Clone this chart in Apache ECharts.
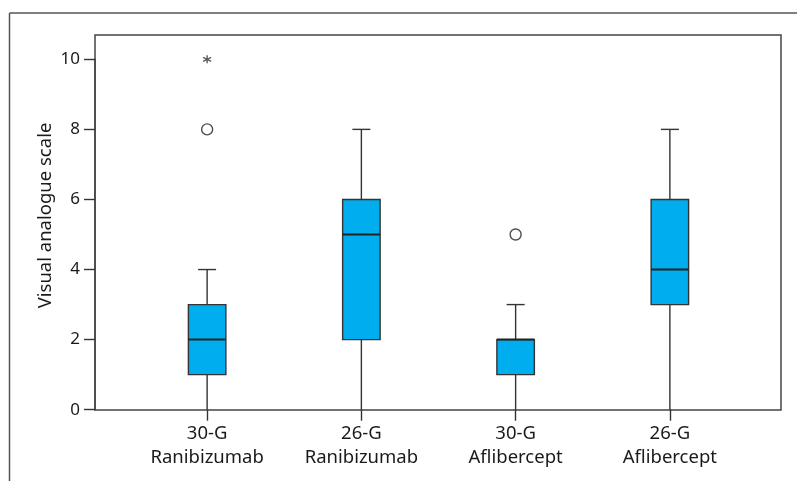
<!DOCTYPE html>
<html>
<head>
<meta charset="utf-8">
<script src="https://cdn.jsdelivr.net/npm/echarts@6/dist/echarts.min.js"></script>
<style>html,body{margin:0;padding:0;background:#fff}#c{width:798px;height:481px}</style>
</head>
<body>
<div id="c"></div>
<script>
const categories = ['30-G\nRanibizumab', '26-G\nRanibizumab', '30-G\nAflibercept', '26-G\nAflibercept'];
const mins    = [0, 0, 0, 0];
const q1s     = [1, 2, 1, 3];
const medians = [2, 5, 2, 4];
const q3s     = [3, 6, 2, 6];
const maxs    = [4, 8, 3, 8];
const circleOutliers = [[0, 8], [2, 5]];
const extremeOutliers = [[0, 10]];
const yMin = 0, yMax = 10, yInterval = 2;

const dark = '#333';
const fill = '#00ADEE';
const font = 'Noto Sans';

const boxData = categories.map((c, i) => [i, mins[i], q1s[i], medians[i], q3s[i], maxs[i]]);

const chart = echarts.init(document.getElementById('c'), null, {renderer: 'canvas'});
chart.setOption({
  backgroundColor: '#fff',
  animation: false,
  graphic: [
    {type: 'line', shape: {x1: 9.5, y1: 13, x2: 797, y2: 13}, style: {stroke: '#555', lineWidth: 1.5}},
    {type: 'line', shape: {x1: 9.5, y1: 13, x2: 9.5, y2: 481}, style: {stroke: '#555', lineWidth: 1.5}}
  ],
  grid: [
    {left: 95, right: 17, top: 35, bottom: 71, show: true, borderColor: '#444', borderWidth: 1.5, backgroundColor: 'transparent'},
    {left: 95, right: 17, top: 59.3, bottom: 71.3},
    {left: 130, right: 51, top: 59.3, bottom: 71.3}
  ],
  xAxis: [
    {gridIndex: 0, type: 'value', min: 0, max: 1, show: false},
    {gridIndex: 1, type: 'value', min: 0, max: 1, show: false},
    {gridIndex: 2, type: 'category', data: categories, boundaryGap: true,
      axisLine: {show: true, lineStyle: {color: 'rgba(0,0,0,0)', width: 0}},
      axisTick: {show: true, alignWithLabel: true, length: 11, lineStyle: {color: dark, width: 1.4}},
      axisLabel: {color: '#1a1a1a', fontFamily: font, fontSize: 18.5, lineHeight: 24, margin: 12}
    }
  ],
  yAxis: [
    {gridIndex: 0, type: 'value', min: 0, max: 1,
      name: 'Visual analogue scale', nameLocation: 'middle', nameGap: 40,
      nameTextStyle: {color: '#1a1a1a', fontFamily: font, fontSize: 18.5, padding: [0, 0, 0, 14]},
      axisLine: {show: false}, axisTick: {show: false}, axisLabel: {show: false}, splitLine: {show: false}
    },
    {gridIndex: 1, type: 'value', min: yMin, max: yMax, interval: yInterval,
      axisLine: {show: true, lineStyle: {color: '#444', width: 1.5}},
      axisTick: {show: true, inside: false, length: 11, lineStyle: {color: dark, width: 1.4}},
      axisLabel: {color: '#1a1a1a', fontFamily: font, fontSize: 17, margin: 15},
      splitLine: {show: false}
    },
    {gridIndex: 2, type: 'value', min: yMin, max: yMax, show: false, splitLine: {show: false}}
  ],
  series: [
    {
      type: 'custom', xAxisIndex: 2, yAxisIndex: 2, data: boxData,
      encode: {x: 0, y: [1, 2, 3, 4, 5]},
      clip: false,
      renderItem: function (params, api) {
        const i = api.value(0);
        const band = api.size([1, 0])[0];
        const bw = band * 0.243;
        const cap = bw * 0.48;
        const pMin = api.coord([i, api.value(1)]);
        const pQ1 = api.coord([i, api.value(2)]);
        const pMed = api.coord([i, api.value(3)]);
        const pQ3 = api.coord([i, api.value(4)]);
        const pMax = api.coord([i, api.value(5)]);
        const x = pMin[0];
        const ls = {stroke: dark, lineWidth: 1.4};
        return {
          type: 'group',
          children: [
            {type: 'line', shape: {x1: x, y1: pQ1[1], x2: x, y2: pMin[1]}, style: ls},
            {type: 'line', shape: {x1: x, y1: pQ3[1], x2: x, y2: pMax[1]}, style: ls},
            {type: 'line', shape: {x1: x - cap / 2, y1: pMax[1], x2: x + cap / 2, y2: pMax[1]}, style: ls},
            {type: 'rect', shape: {x: x - bw / 2, y: pQ3[1], width: bw, height: pQ1[1] - pQ3[1]},
              style: {fill: fill, stroke: dark, lineWidth: 1.4}},
            {type: 'line', shape: {x1: x - bw / 2, y1: pMed[1], x2: x + bw / 2, y2: pMed[1]},
              style: {stroke: '#222', lineWidth: 2}}
          ]
        };
      }
    },
    {
      type: 'scatter', xAxisIndex: 2, yAxisIndex: 2, data: circleOutliers,
      symbol: 'circle', symbolSize: 11, clip: false,
      itemStyle: {color: '#fff', borderColor: '#222', borderWidth: 1.4}
    },
    {
      type: 'scatter', xAxisIndex: 2, yAxisIndex: 2, data: extremeOutliers,
      symbol: 'path://M0,-1L0,1M-0.866,-0.5L0.866,0.5M-0.866,0.5L0.866,-0.5',
      symbolSize: 8, clip: false,
      itemStyle: {color: 'none', borderColor: '#333', borderWidth: 1.4}
    }
  ]
});
</script>
</body>
</html>
